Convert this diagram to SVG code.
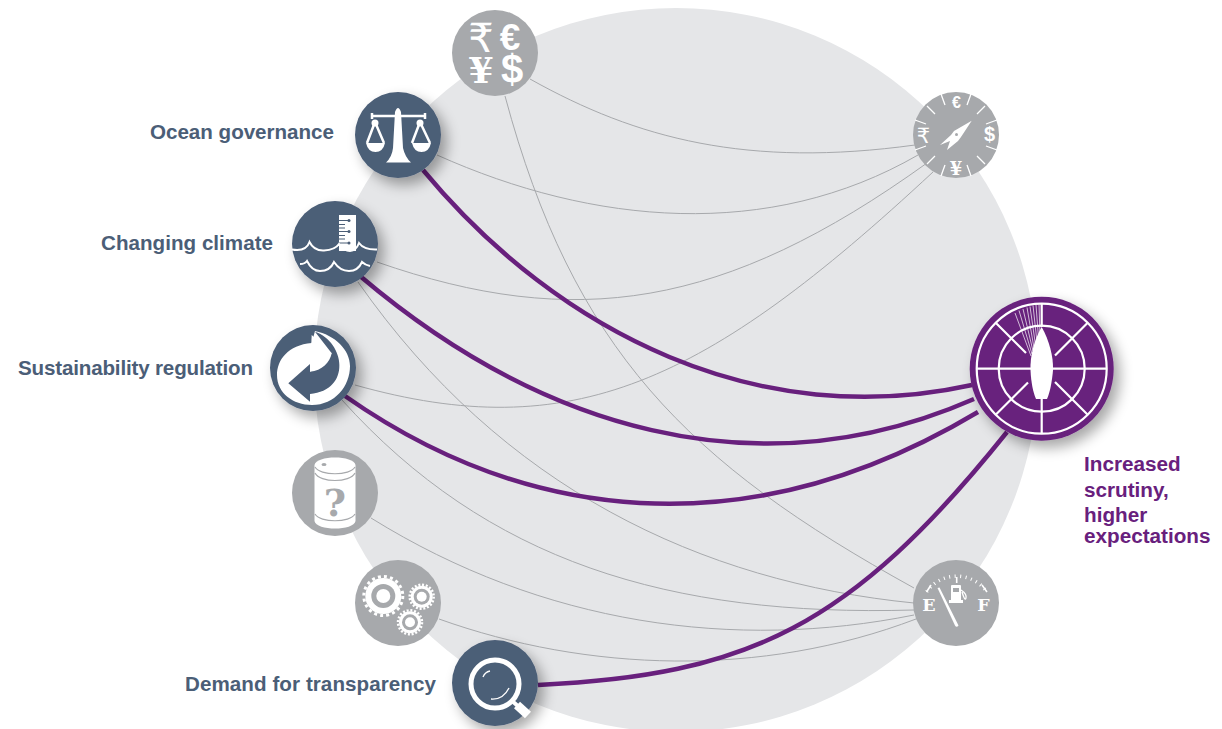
<svg xmlns="http://www.w3.org/2000/svg" width="1222" height="729" viewBox="0 0 1222 729">
<style>
.lbl{font-family:"Liberation Sans",Arial,sans-serif;font-weight:700;font-size:20.6px;fill:#4b5e77}
.plbl{font-family:"Liberation Sans",Arial,sans-serif;font-weight:700;font-size:20.7px;fill:#68207d}
.sym{font-weight:700;fill:#fff;text-anchor:middle}
.ss{font-family:"Liberation Sans",Arial,sans-serif}
.sf{font-family:"DejaVu Serif",serif}
.ds{font-family:"DejaVu Sans",sans-serif;font-weight:400}
.g{fill:none;stroke:#a7a9ac;stroke-width:1}
.p{fill:none;stroke:#68207d;stroke-width:4.5}
.bn{fill:#4b5e77}.gn{fill:#a7a9ac}
.w{fill:#fff}.ws{fill:none;stroke:#fff}
</style>
<defs>
<filter id="sh" x="-40%" y="-40%" width="190%" height="190%"><feGaussianBlur in="SourceAlpha" stdDeviation="7"/><feOffset dx="6" dy="7"/><feComponentTransfer><feFuncA type="linear" slope="0.35"/></feComponentTransfer><feMerge><feMergeNode/><feMergeNode in="SourceGraphic"/></feMerge></filter>
</defs>
<circle id="field" cx="676" cy="370" r="362" fill="#e5e6e8"/>
<g id="connectors">
<path class="g" d="M530 79C637 139 748 168 915 145"/>
<path class="g" d="M505 96C573 349 687 463 914 588"/>
<path class="g" d="M437 155C593 225 769 241 918 155"/>
<path class="g" d="M377 262C575 331 724 309 927 163"/>
<path class="g" d="M355 385C572 446 705 384 933 172"/>
<path class="g" d="M358 282C502 488 701 582 914 603"/>
<path class="g" d="M342 400C487 561 668 617 914 610"/>
<path class="g" d="M371 518C543 625 735 651 914 615"/>
<path class="g" d="M439 619C587 672 761 678 916 619"/>
<path class="p" d="M423 170C560 335 760 432 972 385"/>
<path class="p" d="M360 276C538 427 755 495 974 399"/>
<path class="p" d="M345 396C522 520 744 552 978 412"/>
<path class="p" d="M538 685C748 675 850 628 1007 432"/>
</g>
<g id="node-currency">
<circle class="gn" cx="495" cy="53" r="43"/>
<text class="sym ds" x="481" y="52" font-size="40">₹</text>
<text class="sym ss" x="510" y="50" font-size="37">€</text>
<text class="sym sf" x="481" y="83" font-size="36">¥</text>
<text class="sym ss" x="512" y="83" font-size="40">$</text>
</g>
<g id="node-ocean-governance">
<circle class="bn" cx="398" cy="135" r="43" filter="url(#sh)"/>
<path class="w" d="M395 112Q398 104 401 112L403 148Q405 157 411 162.500H386Q392 157 393 148Z"/>
<path class="ws" stroke-width="2.500" d="M372 116H425M372 113V119M425 113V119M375 122L367 143M375 122L384 143M420 122L412 143M420 122L430 143"/>
<circle class="w" cx="375" cy="123" r="3.500"/><circle class="w" cx="420" cy="123" r="3.500"/>
<path class="w" d="M366 143H385Q383 152 375.500 152T366 143ZM412 143H431Q429 152 421.500 152T412 143Z"/>
</g>
<g id="node-changing-climate">
<circle class="bn" cx="335" cy="244" r="43" filter="url(#sh)"/>
<rect class="w" x="339" y="215" width="17" height="36"/>
<path fill="none" stroke="#4b5e77" stroke-width="1.200" d="M339 220.500H349M339 224.500H345M339 228H345M339 231.500H349M339 235.500H345M339 239H345M339 243H349"/>
<g fill="#4b5e77"><circle cx="349" cy="220.500" r="1.500"/><circle cx="349" cy="231.500" r="1.500"/><circle cx="349" cy="243" r="1.500"/></g>
<path class="ws" stroke-width="2" d="M292 249.500Q306 252 309.500 242Q314 251 324 250.500Q335 250 339 244Q344 251 350 251T359 243Q364 250 377 249.500M300 264Q305 264 307 261Q312 271 320 271Q330 271 334 262Q340 271 349 271Q358 271 362 262Q365 265 370 266"/>
</g>
<g id="node-sustainability-regulation">
<circle class="bn" cx="313" cy="368" r="43" filter="url(#sh)"/>
<path class="w" d="M311.700 343C288 345 277 360 277 375C277 393 293 405 312 405C335 405 350 386 350 366C350 350 335 335 315 331Z"/>
<path class="bn" d="M288.300 383.300L310 364V371.700C322 371 330 362 331.700 353.300L315 331.700C345 342 352 390 310 394V401.700Z"/>
<path class="w" d="M311.700 335L331.700 353.300L310 371.700Z"/>
</g>
<g id="node-supply">
<circle class="gn" cx="335" cy="493" r="43"/>
<path class="w" d="M314.500 465C316 455 354 455 355.500 465V521C354 531 316 531 314.500 521Z"/>
<path fill="none" stroke="#a7a9ac" stroke-width="1.200" d="M315 467C320 476 350 476 355 467M315 473C320 483 350 483 355 473M315 514C320 523 350 523 355 514"/>
<ellipse cx="324" cy="464.500" rx="2.500" ry="1.500" fill="#a7a9ac"/>
<text class="sf" x="335" y="516" font-size="38" font-weight="700" text-anchor="middle" fill="#a7a9ac">?</text>
</g>
<g id="node-technology">
<circle class="gn" cx="398" cy="603" r="43"/>
<circle class="w" cx="383.300" cy="596" r="18"/><circle class="ws" cx="383.300" cy="596" r="19.500" stroke-width="3" stroke-dasharray="3 3.130"/>
<circle class="gn" cx="383.300" cy="596" r="12"/><circle class="w" cx="383.300" cy="596" r="7"/>
<circle class="w" cx="421.700" cy="596.700" r="11"/><circle class="ws" cx="421.700" cy="596.700" r="12" stroke-width="2.500" stroke-dasharray="2 1.770"/>
<circle class="gn" cx="421.700" cy="596.700" r="8"/><circle class="w" cx="421.700" cy="596.700" r="5"/>
<circle class="w" cx="410" cy="622.300" r="11"/><circle class="ws" cx="410" cy="622.300" r="12" stroke-width="2.500" stroke-dasharray="2 1.770"/>
<circle class="gn" cx="410" cy="622.300" r="8"/><circle class="w" cx="410" cy="622.300" r="5"/>
</g>
<g id="node-demand-for-transparency">
<circle class="bn" cx="495" cy="683" r="43" filter="url(#sh)"/>
<circle class="ws" cx="495" cy="684" r="24" stroke-width="5"/>
<path class="ws" stroke-width="1.300" d="M483 677Q485 672 490 671M491 699Q503 700 509 688"/>
<path class="ws" stroke-width="9" d="M517 705L528 715"/>
<path class="ws" stroke-width="4" d="M511 700L519 707"/>
</g>
<g id="node-compass">
<circle class="gn" cx="956" cy="135" r="43"/>
<path class="ws" stroke-width="1.300" d="M945 105L941 94M967 105L971 94M977 114L985 106M986 124L997 120M986 146L997 150M977 156L985 164M967 165L971 176M945 165L941 176M935 156L927 164M926 146L915 150M926 124L915 120M935 114L927 106"/>
<path class="w" d="M971.700 120.700L961 137L958 141L947 150L950 141L940 145L951 135L954 131Z"/>
<circle cx="956.500" cy="134.500" r="1.500" fill="#a7a9ac"/>
<text class="sym ss" x="956.500" y="108" font-size="16">€</text>
<text class="sym ss" x="989.500" y="141" font-size="20">$</text>
<text class="sym sf" x="956" y="175" font-size="18">¥</text>
<text class="sym ds" x="923.500" y="143" font-size="21">₹</text>
</g>
<g id="node-fuel">
<circle class="gn" cx="956" cy="603" r="43"/>
<path class="ws" stroke-width="3.500" stroke-dasharray="1 4.500" d="M926.700 591.700A36.700 36.700 0 0 1 986.700 591.700"/>
<path class="ws" stroke-width="1.600" d="M926.500 592L931 585M987 592L982 585M956.700 577V583"/>
<path class="w" d="M951 586Q951 585 952 585H960Q961 585 961 586V600H963V603H949V600H951Z"/>
<path class="ws" stroke-width="1.300" d="M961 590Q967 594 966 598T962 592"/>
<rect x="953" y="588" width="6" height="4" fill="#a7a9ac"/>
<path class="w" d="M937.500 588L939.500 587.500L958.500 625.500Q956.500 628 955 625.500Z"/>
<text class="sym sf" x="929" y="611" font-size="17.500">E</text>
<text class="sym sf" x="983.500" y="611" font-size="17.500">F</text>
</g>
<g id="node-increased-scrutiny">
<circle cx="1041.700" cy="368.700" r="72" fill="#68207d" filter="url(#sh)"/>
<circle class="ws" cx="1041.700" cy="368.700" r="65" stroke-width="2.200"/>
<circle class="ws" cx="1041.700" cy="368.700" r="43" stroke-width="2.200"/>
<path class="ws" stroke-width="2.200" d="M977 368.700H1106.500M1041.700 304V327M1041.700 399V433.500M995.700 322.700L1026 353M1087.700 322.700L1055 355.500M995.700 414.700L1028 382.500M1087.700 414.700L1055 382"/>
<path class="w" d="M1041.700 327C1034 340 1030 356 1030.500 370C1031 382 1033 392 1036 399H1047C1050 392 1052 382 1053 370C1053.500 356 1049 340 1041.700 327Z"/>
<path class="ws" stroke-width="0.700" d="M1039 304.500L1040 335M1036 305L1038.500 338M1033 305.500L1037 342M1030 306.500L1035.500 345M1027 307.500L1034 348M1023 309L1033 351M1019 310.500L1032 354M1015 313L1031 356"/>
</g>
<g id="labels">
<text class="lbl" x="334" y="139" text-anchor="end" textLength="184">Ocean governance</text>
<text class="lbl" x="273" y="250" text-anchor="end" textLength="172">Changing climate</text>
<text class="lbl" x="253" y="375" text-anchor="end" textLength="235">Sustainability regulation</text>
<text class="lbl" x="436" y="691" text-anchor="end" textLength="251">Demand for transparency</text>
<text class="plbl" x="1084" y="471">Increased</text>
<text class="plbl" x="1084" y="497">scrutiny,</text>
<text class="plbl" x="1084" y="522">higher</text>
<text class="plbl" x="1084" y="543">expectations</text>
</g>
</svg>
